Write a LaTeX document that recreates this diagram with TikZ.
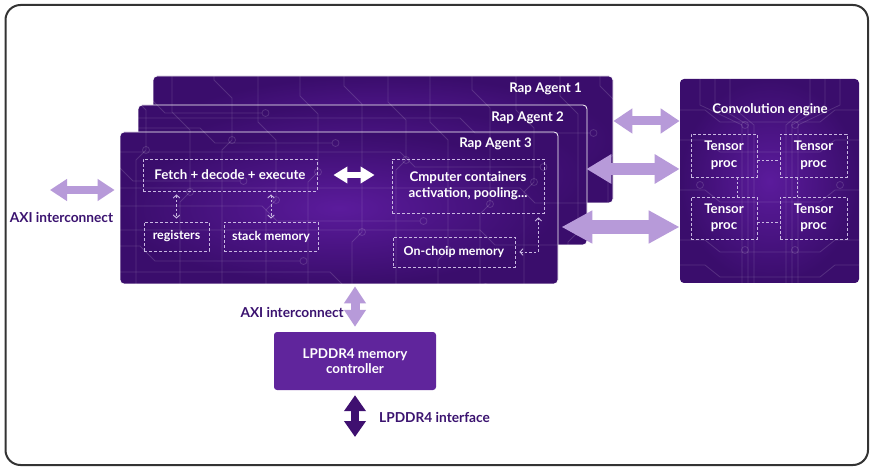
\documentclass[tikz,border=0pt]{standalone}
\usepackage{fontspec}
\setmainfont{Lato}
\usetikzlibrary{arrows.meta,calc}
\definecolor{deep}{HTML}{3A0D6C}
\definecolor{mid}{HTML}{5B1B9C}
\definecolor{lav}{HTML}{B79AD9}
\definecolor{txt}{HTML}{3B1370}
\definecolor{ctrl}{HTML}{60259C}
\definecolor{darkarr}{HTML}{3F1070}
\definecolor{dash}{HTML}{C9B8E2}
\definecolor{framec}{HTML}{333333}
\tikzset{
 panel/.style={rectangle, rounded corners=4pt, draw=white, line width=0.8pt, shade, inner color=mid, outer color=deep, inner sep=0pt},
 sub/.style={rectangle, draw=dash, dash pattern=on 3pt off 2pt, line width=0.8pt, text=white, inner sep=0pt, align=center},
 big/.style={font=\bfseries\fontsize{13.3}{16.5}\selectfont},
 small/.style={font=\bfseries\fontsize{12.4}{14}\selectfont},
 lbl/.style={text=txt, font=\bfseries\fontsize{13.7}{15}\selectfont, inner sep=0pt},
 wlbl/.style={text=white, font=\bfseries\fontsize{13.3}{15}\selectfont, inner sep=0pt},
 dlink/.style={draw=dash, dash pattern=on 2.5pt off 2pt, line width=0.9pt},
 darr/.style={dlink, {Straight Barb[length=3pt,width=6.5pt]}-{Straight Barb[length=3pt,width=6.5pt]}},
 trace/.style={draw=white, draw opacity=0.14, line width=0.8pt},
 arrA/.style={draw=lav, line width=9pt, {Triangle[length=19pt,width=24pt]}-{Triangle[length=19pt,width=24pt]}},
 arrB/.style={draw=lav, line width=12pt, {Triangle[length=25pt,width=28pt]}-{Triangle[length=25pt,width=28pt]}},
 arrC/.style={draw=lav, line width=14pt, {Triangle[length=31pt,width=31pt]}-{Triangle[length=31pt,width=31pt]}},
 arrS/.style={draw=lav, line width=8pt, {Triangle[length=17pt,width=21pt]}-{Triangle[length=17pt,width=21pt]}},
 arrD/.style={draw=darkarr, line width=8pt, {Triangle[length=16pt,width=21pt]}-{Triangle[length=16pt,width=21pt]}},
 arrW/.style={draw=white, line width=6pt, {Triangle[length=14pt,width=16pt]}-{Triangle[length=14pt,width=16pt]}},
}
\newcommand\agenttraces{%
 \foreach \x/\a/\b in {128/92/150,172/112/192,214/80/140,258/122/200,300/96/172,344/86/232,388/102/160,430/122/250,472/90/204,516/110/182,560/96/232,600/86/150}{
  \draw[trace] (\x,70) -- (\x,\a) -- (\x+18,\a+18) -- (\x+18,\b) -- (\x+8,\b+10) -- (\x+8,290);
  \draw[trace] (\x+18,\b) circle (3.5);
 }
 \foreach \y/\a/\b in {98/150/262,128/200/332,166/118/240,206/262/420,246/140/300,272/330/482,152/400/540,230/480/604,188/520/612,118/460/590}{
  \draw[trace] (100,\y) -- (\a,\y) -- (\a+15,\y+15) -- (\b,\y+15);
  \draw[trace] (\b+3.5,\y+15) circle (3.5);
 }
}
\newcommand\convtraces{%
 \foreach \x in {700,715,730,810,825,840}{
  \draw[trace] (\x,79) -- (\x,105) -- (770+0.4*\x-308,125) -- (770+0.4*\x-308,283);
 }
 \foreach \y in {110,140,190,240,265}{
  \draw[trace] (680,\y) -- (705,\y) -- (720,\y+12) -- (820,\y+12) -- (835,\y) -- (860,\y);
 }
 \foreach \p in {(745,125),(795,125),(745,250),(795,250),(700,185),(840,185)}{\draw[trace] \p circle (3.5);}
}
\begin{document}
\begin{tikzpicture}[x=1pt,y=-1pt]
\useasboundingbox (0,0) rectangle (878,470);
\fill[white] (0,0) rectangle (878,470);
\draw[framec, line width=2pt, rounded corners=15pt] (5.5,5) rectangle (868,465);

% agent 1
\node[panel, minimum width=460pt, minimum height=127pt] (a1) at (383,139.5) {};
\begin{scope}\clip[rounded corners=4pt] (a1.south west) rectangle (a1.north east); \agenttraces \end{scope}
\node[wlbl, anchor=east] (t1) at (582,89) {Rap Agent 1};
% agent 2
\node[panel, minimum width=449pt, minimum height=140pt] (a2) at (362.5,175) {};
\begin{scope}\clip[rounded corners=4pt] (a2.south west) rectangle (a2.north east); \agenttraces \end{scope}
\node[wlbl, anchor=east] (t2) at (564,118) {Rap Agent 2};
% agent 3
\node[panel, minimum width=438pt, minimum height=152pt] (a3) at (339,208) {};
\begin{scope}\clip[rounded corners=4pt] (a3.south west) rectangle (a3.north east); \agenttraces \end{scope}
\node[wlbl, anchor=east] (t3) at (532,144) {Rap Agent 3};

% conv engine
\node[panel, draw=none, minimum width=179pt, minimum height=204pt] (conv) at (769.5,181) {};
\begin{scope}\clip[rounded corners=4pt] (conv.south west) rectangle (conv.north east); \convtraces \end{scope}
\node[wlbl] (ct) at (770,110) {Convolution engine};

% inner boxes of agent 3
\node[sub, big, minimum width=174pt, minimum height=32pt] (fetch) at (230,175) {Fetch + decode + execute};
\node[sub, small, minimum width=65pt, minimum height=29pt] (reg) at (176.5,236.5) {registers};
\node[sub, small, minimum width=94pt, minimum height=29pt] (stack) at (271,236.5) {stack memory};
\node[sub, big, minimum width=152pt, minimum height=54pt] (cmp) at (468,186) {Cmputer containers\\activation, pooling...};
\node[sub, small, minimum width=122pt, minimum height=30pt] (onchip) at (454,252) {On-choip memory};

\draw[darr, shorten <=3pt, shorten >=3pt] (fetch.south -| reg.north) -- (reg.north);
\draw[darr, shorten <=3pt, shorten >=3pt] (fetch.south -| stack.north) -- (stack.north);
\draw[darr, shorten <=4pt, shorten >=4pt] (onchip.east) -| ($(cmp.south east)+(-6,0)$);
\draw[arrW, shorten <=16pt, shorten >=17pt] (fetch.east) -- (fetch.east -| cmp.west);

% tensor boxes
\node[sub, big, minimum width=66pt, minimum height=43pt] (tl) at (724,155.5) {Tensor\\proc};
\node[sub, big, minimum width=67pt, minimum height=43pt] (tr) at (813.5,155.5) {Tensor\\proc};
\node[sub, big, minimum width=66pt, minimum height=42pt] (bl) at (724,218) {Tensor\\proc};
\node[sub, big, minimum width=67pt, minimum height=42pt] (br) at (813.5,218) {Tensor\\proc};
\draw[dlink] ($(tl.east)+(0,5)$) -- ($(tr.west)+(0,5)$);
\draw[dlink] ($(bl.east)+(0,4)$) -- ($(br.west)+(0,4)$);
\draw[dlink] ($(tl.south)+(13,0)$) -- ($(bl.north)+(13,0)$);
\draw[dlink] ($(tr.south)+(-16.5,0)$) -- ($(br.north)+(-16.5,0)$);

% big arrows to conv engine
\coordinate (y1) at (0,121);
\coordinate (y2) at (0,169);
\coordinate (y3) at (0,227);
\draw[arrA] (a1.east |- y1) -- (conv.west |- y1);
\draw[arrB, shorten <=-1pt] (a2.east |- y2) -- (conv.west |- y2);
\draw[arrC, shorten <=3pt] (a3.east |- y3) -- (conv.west |- y3);

% left AXI
\coordinate (axil) at (50,190);
\draw[arrS, shorten >=5pt] (axil) -- (a3.west |- axil);
\node[lbl] (axilbl) at (61.5,217) {AXI interconnect};

% memory controller
\node[rectangle, rounded corners=3pt, fill=ctrl, text=white, font=\bfseries\fontsize{13.4}{15}\selectfont, align=center, minimum width=162pt, minimum height=58pt] (lp) at (355,361) {LPDDR4 memory\\controller};
\draw[arrS, line width=9pt, shorten <=2pt, shorten >=5pt] (lp.north |- a3.south) -- (lp.north);
\node[lbl, anchor=east] (axib) at (344,312) {AXI interconnect};
\coordinate (lpend) at (355,437);
\draw[arrD, shorten <=5pt] (lp.south) -- (lpend);
\node[lbl, anchor=west] (ifl) at (379,417) {LPDDR4 interface};
\end{tikzpicture}
\end{document}
